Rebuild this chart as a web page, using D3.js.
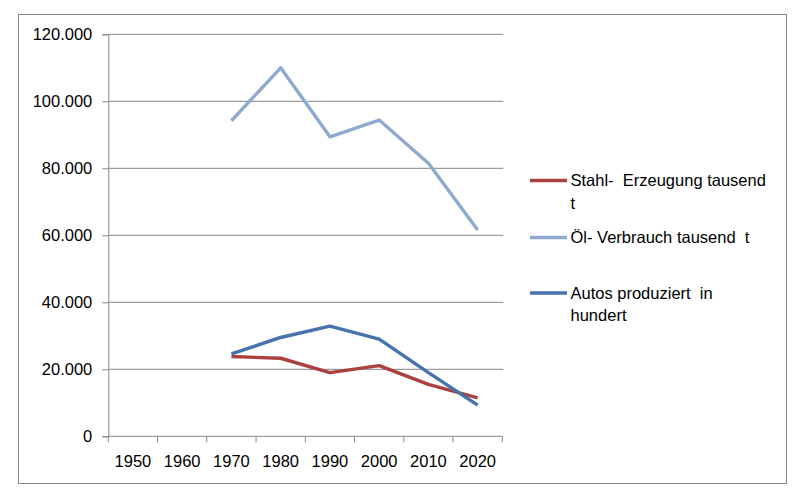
<!DOCTYPE html>
<html>
<head>
<meta charset="utf-8">
<script src="https://cdn.jsdelivr.net/npm/d3@7"></script>
<style>
  body { margin: 0; background: #fff; }
  text { font-family: "Liberation Sans", Arial, sans-serif; font-size: 16.5px; fill: #000; white-space: pre; }
</style>
</head>
<body>
<div id="okvir"></div>
<script>
// podaci
const godine = ["1950", "1960", "1970", "1980", "1990", "2000", "2010", "2020"]
const stahl = [null, null, 23800, 23300, 19000, 21100, 15500, 11500]
const oel = [null, null, 94200, 110000, 89400, 94400, 81500, 61600]
const autos = [null, null, 24600, 29500, 32900, 29000, 19000, 9300]
const yTicks = [0, 20000, 40000, 60000, 80000, 100000, 120000]

const serije = [
  { naziv: ["Stahl-  Erzeugung tausend", "t"], vrijednosti: stahl, boja: "#aa413f" },
  { naziv: ["Öl- Verbrauch tausend  t"], vrijednosti: oel, boja: "#8fa9cf" },
  { naziv: ["Autos produziert  in", "hundert"], vrijednosti: autos, boja: "#4672ad" },
]

const dimenzije = {
  sirina: 804,
  visina: 498,
  margine: { top: 34.3, left: 108.3 },
  grSirina: 394,
  grVisina: 402,
}

const okvir = d3.select("#okvir")
  .append("svg")
    .attr("width", dimenzije.sirina)
    .attr("height", dimenzije.visina)

okvir.append("rect")
    .attr("x", 18.5)
    .attr("y", 14.5)
    .attr("width", 768)
    .attr("height", 469)
    .attr("fill", "none")
    .attr("stroke", "#868686")

const granice = okvir.append("g")
    .attr("transform", `translate(${dimenzije.margine.left},${dimenzije.margine.top})`)

// skale
const xSkala = d3.scaleBand()
  .domain(godine)
  .range([0, dimenzije.grSirina])

const ySkala = d3.scaleLinear()
  .domain([0, 120000])
  .range([dimenzije.grVisina, 0])

const njem = d3.formatLocale({ decimal: ",", thousands: ".", grouping: [3], currency: ["", "€"] })
const formatBroja = njem.format(",")

// mreza
granice.append("g")
  .selectAll("line")
  .data(yTicks.filter(d => d > 0))
  .join("line")
    .attr("x1", 0)
    .attr("x2", dimenzije.grSirina + 1)
    .attr("y1", d => ySkala(d))
    .attr("y2", d => ySkala(d))
    .attr("stroke", "#868686")

// y os
const yOs = granice.append("g")
  .call(d3.axisLeft(ySkala).tickValues(yTicks).tickSize(6).tickPadding(10).tickFormat(formatBroja))
yOs.select(".domain").attr("stroke", "#868686")
yOs.selectAll(".tick line").attr("stroke", "#868686")
yOs.selectAll(".tick text").attr("fill", null)
yOs.attr("font-family", null).attr("font-size", null)

// x os
const xOs = granice.append("g")
    .attr("transform", `translate(0,${dimenzije.grVisina})`)
xOs.append("line")
    .attr("x1", 0)
    .attr("x2", dimenzije.grSirina)
    .attr("stroke", "#868686")
xOs.selectAll(".crtica")
  .data(godine.concat(["kraj"]))
  .join("line")
    .attr("class", "crtica")
    .attr("x1", (d, i) => i < godine.length ? xSkala(d) : dimenzije.grSirina)
    .attr("x2", (d, i) => i < godine.length ? xSkala(d) : dimenzije.grSirina)
    .attr("y1", 0)
    .attr("y2", 6)
    .attr("stroke", "#868686")
xOs.selectAll(".oznaka")
  .data(godine)
  .join("text")
    .attr("class", "oznaka")
    .attr("x", d => xSkala(d) + xSkala.bandwidth() / 2)
    .attr("y", 30.5)
    .attr("text-anchor", "middle")
    .text(d => d)

// linije
const generatorLinije = d3.line()
  .defined(d => d != null)
  .x((d, i) => xSkala(godine[i]) + xSkala.bandwidth() / 2)
  .y(d => ySkala(d))

granice.selectAll(".linija")
  .data(serije)
  .join("path")
    .attr("class", "linija")
    .attr("fill", "none")
    .attr("stroke", d => d.boja)
    .attr("stroke-width", 3.4)
    .attr("stroke-linejoin", "round")
    .attr("d", d => generatorLinije(d.vrijednosti))

// legenda
const legendaY = [180.5, 237.5, 293]
const legenda = okvir.append("g")
serije.forEach((s, i) => {
  const g = legenda.append("g").attr("transform", `translate(0,${legendaY[i]})`)
  g.append("line")
    .attr("x1", 530)
    .attr("x2", 567)
    .attr("stroke", s.boja)
    .attr("stroke-width", 3.5)
  s.naziv.forEach((red, j) => {
    g.append("text")
      .attr("x", 570.5)
      .attr("y", 5.8 + j * 22.6)
      .text(red)
  })
})
</script>
</body>
</html>
